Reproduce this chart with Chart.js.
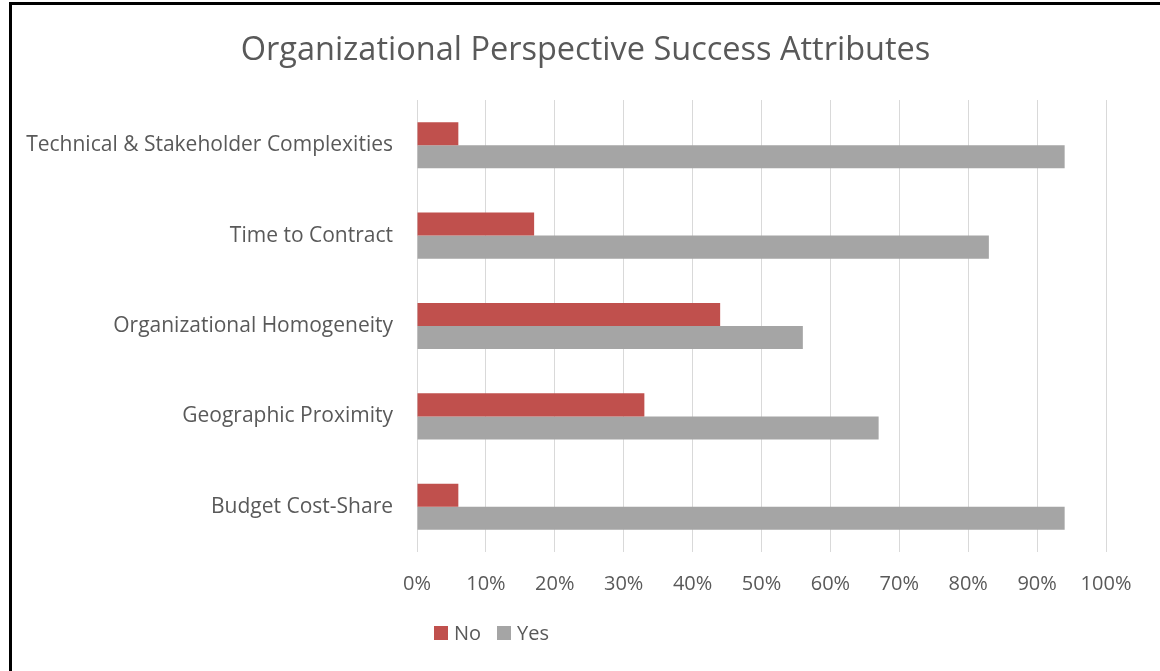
<!DOCTYPE html>
<html>
<head>
<meta charset="utf-8">
<script src="https://cdn.jsdelivr.net/npm/chart.js@4"></script>
<style>
  html, body { margin: 0; padding: 0; background: #fff; overflow: hidden; }
  #frame {
    position: absolute; left: 9px; top: 2px; width: 1200px; height: 720px;
    border-left: 3px solid #000; border-top: 3px solid #000;
  }
  #wrap { position: absolute; left: 0; top: 0; width: 1160px; height: 671px; }
  #title {
    position: absolute; left: 0; top: 28px; width: 1171px; text-align: center;
    font: 32.5px/40px "Open Sans", sans-serif; color: #595959; white-space: nowrap;
  }
  #legend {
    position: absolute; left: 434px; top: 619px; font: 20px "Open Sans", sans-serif;
    color: #595959; display: flex; align-items: center;
  }
  .sw { width: 14px; height: 14px; display: inline-block; margin-right: 6px; }
  .item { display: flex; align-items: center; margin-right: 16px; }
</style>
</head>
<body>
<div id="frame"></div>
<div id="wrap"><canvas id="chart" width="1160" height="671"></canvas></div>
<div id="title"></div>
<div id="legend"></div>
<script>
const chartTitle = "Organizational Perspective Success Attributes";
const categories = [
  "Technical & Stakeholder Complexities",
  "Time to Contract",
  "Organizational Homogeneity",
  "Geographic Proximity",
  "Budget Cost-Share"
];
const noValues = [6, 17, 44, 33, 6];
const yesValues = [94, 83, 56, 67, 94];
const seriesNames = ["No", "Yes"];
const seriesColors = ["#C0504D", "#A5A5A5"];

const textColor = "#595959";
const fontFamily = '"Open Sans", "Noto Sans", sans-serif';

document.getElementById("title").textContent = chartTitle;

const ctx = document.getElementById("chart").getContext("2d");
new Chart(ctx, {
  type: "bar",
  data: {
    labels: categories,
    datasets: [
      { label: seriesNames[0], data: noValues, backgroundColor: seriesColors[0] },
      { label: seriesNames[1], data: yesValues, backgroundColor: seriesColors[1] }
    ]
  },
  options: {
    indexAxis: "y",
    responsive: false,
    animation: false,
    layout: { padding: { left: 12, right: 54, top: 100, bottom: 0 } },
    datasets: {
      bar: { categoryPercentage: 0.51, barPercentage: 1.0 }
    },
    scales: {
      x: {
        min: 0,
        max: 100,
        ticks: {
          stepSize: 10,
          color: textColor,
          font: { size: 20, family: fontFamily },
          padding: 20,
          callback: (v) => v + "%"
        },
        grid: { color: "#D9D9D9", lineWidth: 1, drawTicks: false },
        border: { display: false },
        afterFit: (scale) => { scale.height = 119; }
      },
      y: {
        ticks: {
          color: textColor,
          font: { size: 21, family: fontFamily },
          padding: 16
        },
        grid: { display: false },
        border: { display: false },
        afterFit: (scale) => { scale.width = 405; }
      }
    },
    plugins: {
      legend: { display: false },
      tooltip: { enabled: false },
      title: { display: false }
    }
  }
});

const legend = document.getElementById("legend");
seriesNames.forEach((name, i) => {
  const item = document.createElement("span");
  item.className = "item";
  const sw = document.createElement("span");
  sw.className = "sw";
  sw.style.background = seriesColors[i];
  item.appendChild(sw);
  item.appendChild(document.createTextNode(name));
  legend.appendChild(item);
});
</script>
</body>
</html>
